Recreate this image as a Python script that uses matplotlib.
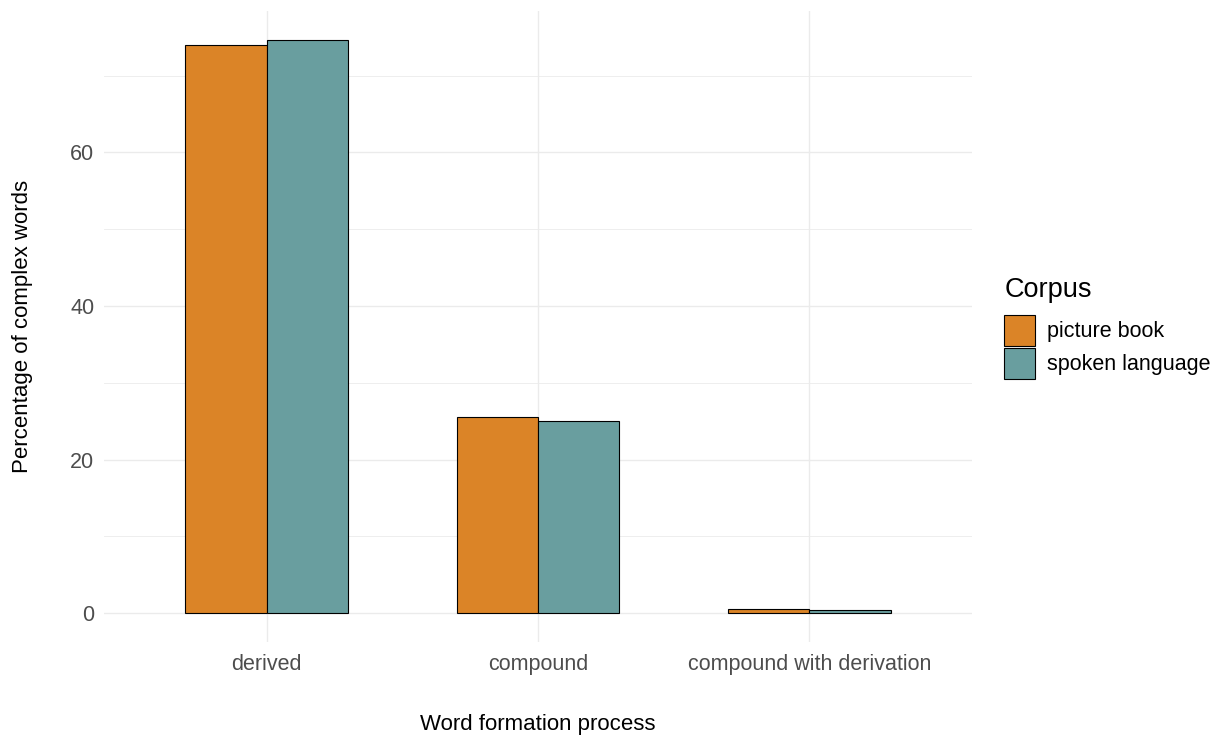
import numpy as np
import matplotlib.pyplot as plt
from matplotlib.ticker import MultipleLocator

plt.rcParams['font.family'] = ['Liberation Sans', 'DejaVu Sans']

processes = ["derived", "compound", "compound with derivation"]
corpora = ["picture book", "spoken language"]
picture_book = [74.0, 25.5, 0.55]
spoken_language = [74.7, 25.0, 0.4]
colors = ["#DB8427", "#699E9F"]

fig = plt.figure(figsize=(12.28, 7.36), dpi=100)
ax = fig.add_axes([104/1228, 1-641.7/736, (972-104)/1228, (641.7-11)/736])

x = np.arange(len(processes))
w = 0.3
ax.bar(x - w/2, picture_book, w, color=colors[0], edgecolor='black', linewidth=0.8,
       label=corpora[0], zorder=3)
ax.bar(x + w/2, spoken_language, w, color=colors[1], edgecolor='black', linewidth=0.8,
       label=corpora[1], zorder=3)

ymax = max(max(picture_book), max(spoken_language))
ax.set_xlim(-0.6, len(processes) - 0.4)
ax.set_ylim(-0.05*ymax, 1.05*ymax)
ax.set_xticks(x)
ax.set_xticklabels(processes)
ax.yaxis.set_major_locator(MultipleLocator(20))
ax.yaxis.set_minor_locator(MultipleLocator(10))

ax.grid(True, which='major', color='#EBEBEB', linewidth=1.0, zorder=0)
ax.grid(True, which='minor', axis='y', color='#EBEBEB', linewidth=0.6, zorder=0)
for s in ax.spines.values():
    s.set_visible(False)
ax.tick_params(which='both', length=0)
ax.tick_params(axis='x', labelsize=15.5, labelcolor='#4D4D4D', pad=9)
ax.tick_params(axis='y', labelsize=15.5, labelcolor='#4D4D4D', pad=7)

ax.set_xlabel("Word formation process", fontsize=16, labelpad=28)
ax.set_ylabel("Percentage of complex words", fontsize=16, labelpad=27)

# legend title drawn separately so the gap to the keys can match
fig.text(1005/1228, 1-290/736, "Corpus", fontsize=19.5, va='center', ha='left')
leg = ax.legend(loc='upper left',
                bbox_to_anchor=(1004/1228, 1-315/736), bbox_transform=fig.transFigure,
                frameon=False, fontsize=15.5,
                handlelength=1.45, handleheight=1.85, handletextpad=0.55,
                labelspacing=0.08, borderpad=0, borderaxespad=0)

fig.savefig("out.png", dpi=100)
